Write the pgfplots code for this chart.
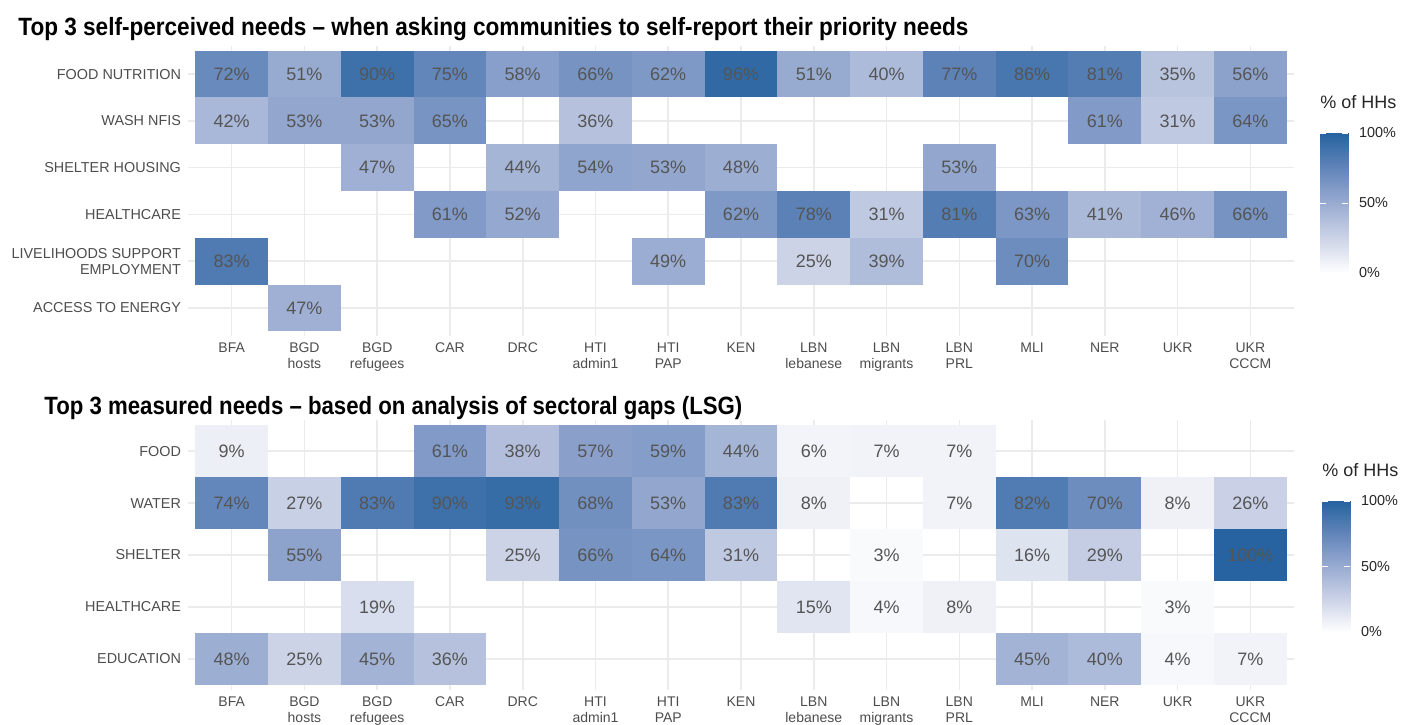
\documentclass[border=0pt]{standalone}
\usepackage{pgfplots}
\usepackage{pgfplotstable}
\pgfplotsset{compat=1.18}
\usepackage{fontspec}
\setmainfont{Liberation Sans}
\usepackage{graphicx}
\definecolor{tickgray}{HTML}{4D4D4D}
\definecolor{gridgray}{HTML}{EBEBEB}
\definecolor{celltext}{HTML}{555555}

% cell sizes: x unit = 553/15.2 pt, top y unit = 145/6.2 pt, bottom y unit = 135/5.2 pt
\pgfdeclareplotmark{celltop}{\pgfpathrectangle{\pgfpoint{-18.19pt}{-11.69pt}}{\pgfpoint{36.38pt}{23.39pt}}\pgfusepathqfill}
\pgfdeclareplotmark{cellbot}{\pgfpathrectangle{\pgfpoint{-18.19pt}{-12.98pt}}{\pgfpoint{36.38pt}{25.96pt}}\pgfusepathqfill}

\pgfplotstableread{
x y v
0 0 72
1 0 51
2 0 90
3 0 75
4 0 58
5 0 66
6 0 62
7 0 96
8 0 51
9 0 40
10 0 77
11 0 86
12 0 81
13 0 35
14 0 56
0 1 42
1 1 53
2 1 53
3 1 65
5 1 36
12 1 61
13 1 31
14 1 64
2 2 47
4 2 44
5 2 54
6 2 53
7 2 48
10 2 53
3 3 61
4 3 52
7 3 62
8 3 78
9 3 31
10 3 81
11 3 63
12 3 41
13 3 46
14 3 66
0 4 83
6 4 49
8 4 25
9 4 39
11 4 70
1 5 47
}\toptable

\pgfplotstableread{
x y v
0 0 9
3 0 61
4 0 38
5 0 57
6 0 59
7 0 44
8 0 6
9 0 7
10 0 7
0 1 74
1 1 27
2 1 83
3 1 90
4 1 93
5 1 68
6 1 53
7 1 83
8 1 8
10 1 7
11 1 82
12 1 70
13 1 8
14 1 26
1 2 55
4 2 25
5 2 66
6 2 64
7 2 31
9 2 3
11 2 16
12 2 29
14 2 100
2 3 19
8 3 15
9 3 4
10 3 8
13 3 3
0 4 48
1 4 25
2 4 45
3 4 36
11 4 45
12 4 40
13 4 4
14 4 7
}\bottable

\pgfplotsset{
  myColMap/.style={
    colormap={hhblue}{rgb255(0cm)=(255,255,255); rgb255(1cm)=(204,211,231); rgb255(2cm)=(153,171,209); rgb255(3cm)=(98,133,186); rgb255(4cm)=(38,99,160)},
    point meta min=0, point meta max=100,
  },
  myHeatAxis/.style={
    scale only axis, width=553pt,
    xmin=-0.6, xmax=14.6, y dir=reverse,
    xtick={0,...,14},
    xticklabels={BFA, BGD\\hosts, BGD\\refugees, CAR, DRC, HTI\\admin1, HTI\\PAP, KEN, LBN\\lebanese, LBN\\migrants, LBN\\PRL, MLI, NER, UKR, UKR\\CCCM},
    xticklabel style={align=center, font=\fontsize{7}{8}\selectfont, text=tickgray, anchor=north},
    yticklabel style={align=right, font=\fontsize{7.2}{8}\selectfont, text=tickgray},
    grid=major, major grid style={gridgray, line width=0.8pt},
    axis line style={draw=none}, major tick length=0pt,
    clip=false,
  },
  myFillPlot/.style={
    only marks, scatter,
    scatter/use mapped color={draw=none, fill=mapped color},
  },
  myLabelPlot/.style={
    only marks, mark=none,
    nodes near coords={\pgfmathprintnumber[assume math mode=true, fixed, precision=0]{\pgfplotspointmeta}\%},
    nodes near coords align=center,
    every node near coord/.append style={anchor=center, text=celltext, font=\fontsize{9}{10}\selectfont},
  },
  myCbarAxis/.style={
    scale only axis, width=14pt, anchor=north west,
    xmin=0, xmax=1, ymin=0, ymax=100,
    xtick=\empty, ytick={0,50,100}, yticklabels={0\%,50\%,100\%},
    ytick pos=both, yticklabel pos=right, tick align=inside,
    yticklabel style={font=\fontsize{7.2}{8}\selectfont, text=black!85, xshift=2pt},
    axis line style={draw=none}, axis on top,
    ytick style={draw=white, line width=0.5pt}, major tick length=3pt,
    title={\% of HHs},
    title style={at={(0,1)}, anchor=base west, inner sep=0pt, yshift=6.5pt, font=\fontsize{9}{10}\selectfont, text=black!85},
  },
}

\begin{document}
\begin{tikzpicture}
\useasboundingbox (0,0) rectangle (705.5pt,-362pt);

\node[anchor=base west, inner sep=0pt, font=\bfseries\fontsize{12.5}{14}\selectfont] at (9pt,-17.5pt)
  {\resizebox{475pt}{\height}{Top 3 self-perceived needs – when asking communities to self-report their priority needs}};
\node[anchor=base west, inner sep=0pt, font=\bfseries\fontsize{12.5}{14}\selectfont] at (22pt,-207pt)
  {\resizebox{349pt}{\height}{Top 3 measured needs – based on analysis of sectoral gaps (LSG)}};

% colour scales
\begin{axis}[myCbarAxis, myColMap, at={(660pt,-66.5pt)}, height=70pt]
\addplot[surf, shader=interp, point meta=y, mesh/rows=2] coordinates {(0,0) (1,0) (0,100) (1,100)};
\end{axis}
\begin{axis}[myCbarAxis, myColMap, at={(661pt,-250.5pt)}, height=65.5pt]
\addplot[surf, shader=interp, point meta=y, mesh/rows=2] coordinates {(0,0) (1,0) (0,100) (1,100)};
\end{axis}

\begin{axis}[myHeatAxis, myColMap,
  at={(94pt,-23pt)}, anchor=north west, height=145pt,
  ymin=-0.6, ymax=5.6, ytick={0,...,5},
  yticklabels={FOOD NUTRITION, WASH NFIS, SHELTER HOUSING, HEALTHCARE, LIVELIHOODS SUPPORT\\EMPLOYMENT, ACCESS TO ENERGY},
]
\addplot[myFillPlot, mark=celltop, point meta=\thisrow{v}] table {\toptable};
\addplot[myLabelPlot, point meta=\thisrow{v}] table {\toptable};
\end{axis}

\begin{axis}[myHeatAxis, myColMap,
  at={(94pt,-210pt)}, anchor=north west, height=135pt,
  ymin=-0.6, ymax=4.6, ytick={0,...,4},
  yticklabels={FOOD, WATER, SHELTER, HEALTHCARE, EDUCATION},
]
\addplot[myFillPlot, mark=cellbot, point meta=\thisrow{v}] table {\bottable};
\addplot[myLabelPlot, point meta=\thisrow{v}] table {\bottable};
\end{axis}
\end{tikzpicture}
\end{document}
